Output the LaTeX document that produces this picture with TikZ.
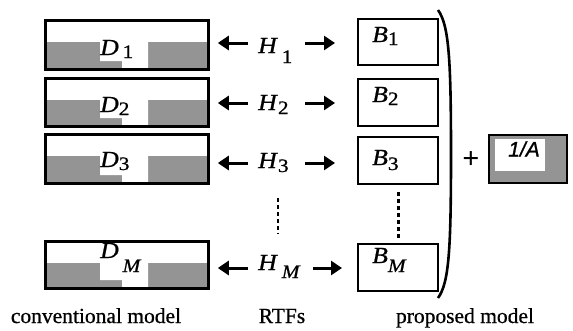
\documentclass[tikz,border=0pt]{standalone}
\usepackage{fontspec}
\setmainfont{Liberation Serif}
\newfontfamily\labfnt[FakeStretch=1.12, FakeBold=0.8]{Liberation Serif}
\newfontfamily\capfnt[FakeBold=0.6]{Liberation Serif}
\newfontfamily\sansfnt[FakeBold=1]{Liberation Sans}
\usetikzlibrary{arrows.meta}
\newcommand\bigf{\labfnt\fontsize{23}{24}\selectfont}
\newcommand\subf{\fontsize{19}{19}\selectfont}
\newcommand\mkD[3]{%
  \fill[shadefill] (44,#2+23) rectangle (207,#3);
  \fill[white] (100,#2+23) -- (100,#3-7) -- (122,#3-7) -- (122,#3) -- (148,#3) -- (148,#2+23) -- cycle;
  \node[dframe, minimum height={#3-#2}, anchor=north west] (#1) at (44,#2) {};
}
\newcommand\mkB[3]{%
  \node[bframe, minimum height={#3-#2}, anchor=north west] (#1) at (357,#2) {};
}
\begin{document}
\begin{tikzpicture}[x=1pt,y=-1pt,
  shadefill/.style={fill=black!42},
  dframe/.style={draw, line width=2.8pt, minimum width=163pt, inner sep=0pt},
  bframe/.style={draw, line width=2.4pt, minimum width=80pt, inner sep=0pt},
  lab/.style={inner sep=0pt, font=\bigf},
  arr/.style={line width=3pt, -{Triangle[length=11pt,width=14pt]}},
  vdots/.style={line width=2.8pt, dash pattern=on 4pt off 3pt},
  caption/.style={inner sep=0pt, anchor=base, font=\capfnt\fontsize{21.5}{24}\selectfont}]
\useasboundingbox (0,0) rectangle (573,330);

% conventional model boxes
\mkD{D1}{19}{68}
\mkD{D2}{77}{125}
\mkD{D3}{133}{182}
\mkD{DM}{240}{287}
\node[lab, anchor=base west] (D1t) at (100,55) {\textit{D}\,\raisebox{-3pt}{\subf 1}};
\node[lab, anchor=base west] (D2t) at (100,112) {\textit{D}\raisebox{-3pt}{\subf 2}};
\node[lab, anchor=base west] (D3t) at (100,167) {\textit{D}\raisebox{-3pt}{\subf 3}};
\node[lab, anchor=base west] (DMt) at (100,258) {\textit{D}\,\raisebox{-14pt}{\subf\itshape M}};

% proposed model boxes
\mkB{B1}{18}{64}
\mkB{B2}{78}{125}
\mkB{B3}{136}{183}
\mkB{BM}{243}{290}
\node[lab, anchor=base west] (B1t) at (372,42) {\textit{B}\raisebox{-3pt}{\subf 1}};
\node[lab, anchor=base west] (B2t) at (372,102) {\textit{B}\raisebox{-3pt}{\subf 2}};
\node[lab, anchor=base west] (B3t) at (372,165) {\textit{B}\raisebox{-5pt}{\subf 3}};
\node[lab, anchor=base west] (BMt) at (372,263) {\textit{B}\raisebox{-9pt}{\subf\itshape M}};

% RTF labels
\node[lab, anchor=base west] (H1) at (258,53) {\textit{H}\,\raisebox{-10pt}{\subf 1}};
\node[lab, anchor=base west] (H2) at (258,110) {\textit{H}\raisebox{-4pt}{\subf 2}};
\node[lab, anchor=base west] (H3) at (258,168) {\textit{H}\raisebox{-4pt}{\subf 3}};
\node[lab, anchor=base west] (HM) at (258,270) {\textit{H}\,\raisebox{-8pt}{\subf\itshape M}};

% arrows
\foreach \h/\d/\b/\y in {H1/D1/B1/43, H2/D2/B2/103, H3/D3/B3/163, HM/DM/BM/268}{
  \coordinate (\h l) at (248,\y);
  \draw[arr] (\h l) -- (\h l -| \d.east) [shorten >=8pt];
}
\coordinate (H1r) at (305,43);
\coordinate (H2r) at (305,103);
\coordinate (H3r) at (305,163);
\coordinate (HMr) at (313,268);
\draw[arr, shorten >=22pt] (H1r) -- (H1r -| B1.west);
\draw[arr, shorten >=22pt] (H2r) -- (H2r -| B2.west);
\draw[arr, shorten >=22pt] (H3r) -- (H3r -| B3.west);
\draw[arr, shorten >=15pt] (HMr) -- (HMr -| BM.west);

% vertical dots
\coordinate (m1) at (278,198);
\coordinate (m2) at (278,234);
\draw[vdots] (m1) -- (m2);
\draw[vdots, shorten <=7pt, shorten >=5pt] (B3.south) -- (BM.north);

% bracket
\draw[line width=2.6pt] (438,10) .. controls (449,25) and (451,60) .. (451,154)
  .. controls (451,250) and (449,283) .. (438,298);

% plus and 1/A
\node[inner sep=0pt, font=\fontsize{30}{30}\selectfont\bfseries] (plus) at (471,160) {+};
\fill[shadefill] (489,135) rectangle (567,183);
\fill[white] (495,139) rectangle (545,171);
\node[draw, line width=2.8pt, minimum width=78pt, minimum height=48pt, inner sep=0pt] (A) at (528,159) {};
\node[inner sep=0pt, font=\sansfnt\fontsize{21}{22}\selectfont\itshape] (At) at (524,149) {1/A};

% captions
\node[caption] (c1) at (96,323) {conventional model};
\node[caption] (c2) at (282,323) {RTFs};
\node[caption] (c3) at (465,323) {proposed model};
\end{tikzpicture}
\end{document}
